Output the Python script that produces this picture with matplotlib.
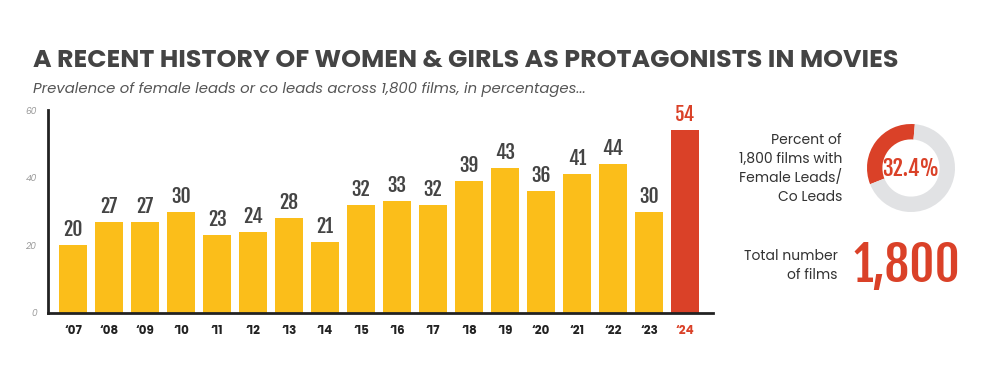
import matplotlib
matplotlib.use("Agg")
import matplotlib.pyplot as plt

years = ["‘07", "‘08", "‘09", "‘10", "‘11", "‘12", "‘13", "‘14", "‘15", "‘16",
         "‘17", "‘18", "‘19", "‘20", "‘21", "‘22", "‘23", "‘24"]
values = [20, 27, 27, 30, 23, 24, 28, 21, 32, 33, 32, 39, 43, 36, 41, 44, 30, 54]
yticks = [0, 20, 40, 60]
share_pct = 32.4
total_films = 1800

YELLOW = "#FBBE1A"
RED = "#DA4128"
DARK = "#444444"
GREY = "#E1E2E4"
COND = "Fjalla One"
SANS = "Poppins"

W, H = 1003, 379
fig = plt.figure(figsize=(W / 100, H / 100), dpi=100)
fig.patch.set_facecolor("white")

def fx(px):
    return px / W

def fy(py):
    return 1 - py / H

fig.text(fx(33), fy(67), "A RECENT HISTORY OF WOMEN & GIRLS AS PROTAGONISTS IN MOVIES",
         family=SANS, weight="bold", fontsize=18.2, color=DARK, va="baseline", ha="left")
fig.text(fx(33), fy(93), "Prevalence of female leads or co leads across 1,800 films, in percentages...",
         family=SANS, style="italic", fontsize=10.7, color="#555555", va="baseline", ha="left")

ax = fig.add_axes([fx(48), fy(313), (713 - 48) / W, (313 - 110) / H])
x = list(range(len(values)))
colors = [YELLOW] * (len(values) - 1) + [RED]
ax.bar(x, values, width=0.78, color=colors, zorder=2)
ax.set_xlim(-0.7, 17.78)
ax.set_ylim(0, 60)
ax.set_yticks(yticks)
ax.set_yticklabels([str(t) for t in yticks], fontsize=6.5, color="#999999", style="italic",
                   family=SANS)
ax.set_xticks(x)
ax.set_xticklabels(years, family=SANS, weight="bold", fontsize=8.5, color="#222222")
ax.get_xticklabels()[-1].set_color(RED)
ax.tick_params(axis="both", length=0)
ax.tick_params(axis="x", pad=9)
ax.tick_params(axis="y", pad=8)
for s in ["top", "right"]:
    ax.spines[s].set_visible(False)
for s in ["left", "bottom"]:
    ax.spines[s].set_linewidth(2)
    ax.spines[s].set_color("#222222")

for i, v in enumerate(values):
    ax.annotate(str(v), (i, v), xytext=(0, 3.5), textcoords="offset points",
                ha="center", va="bottom", family=COND, fontsize=14,
                color=RED if i == len(values) - 1 else DARK)

# donut
dax = fig.add_axes([fx(911 - 55), fy(168 + 55), 110 / W, 110 / H])
dax.pie([share_pct, 100 - share_pct], colors=[RED, GREY], startangle=85,
        counterclock=True, wedgeprops=dict(width=0.35, linewidth=0))
dax.set_aspect("equal")
dax.text(0, 0, f"{share_pct}%", ha="center", va="center", family=COND,
         fontsize=15.5, color=RED)

fig.text(fx(842), fy(169), "Percent of\n1,800 films with\nFemale Leads/\nCo Leads",
         family=SANS, fontsize=10, color="#333333", ha="right", va="center",
         linespacing=1.3)
fig.text(fx(838), fy(266), "Total number\nof films", family=SANS, fontsize=10,
         color="#333333", ha="right", va="center", linespacing=1.3)
fig.text(fx(907), fy(266), f"{total_films:,}", family=COND, fontsize=35,
         color=RED, ha="center", va="center")

fig.savefig("out.png", dpi=100, facecolor="white")
